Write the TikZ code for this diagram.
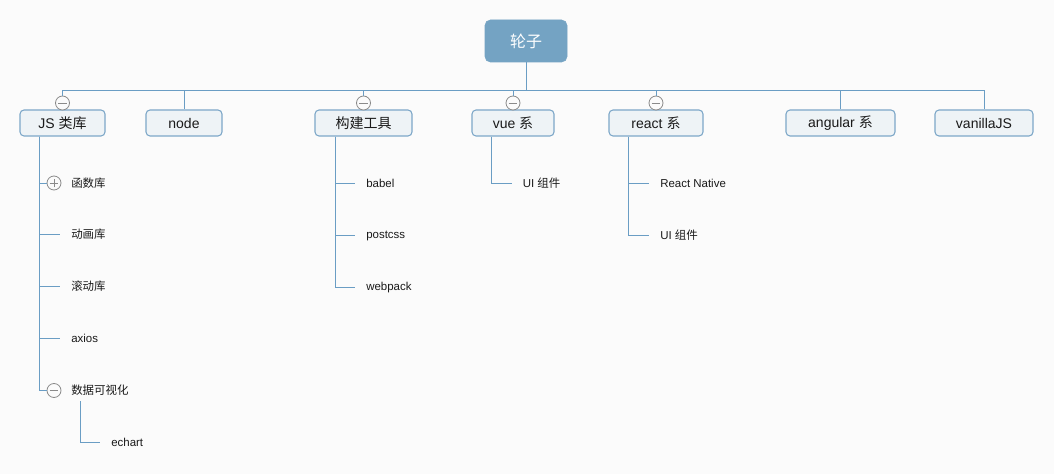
\documentclass[tikz,border=0pt]{standalone}
\usepackage{fontspec}
\setmainfont{Liberation Sans}
\newfontfamily\cjk{Noto Sans CJK SC}
\definecolor{bgc}{HTML}{FBFBFB}
\definecolor{linec}{HTML}{6A9DC4}
\definecolor{boxb}{HTML}{7DA7C8}
\definecolor{boxf}{HTML}{EEF3F6}
\definecolor{rootf}{HTML}{74A3C3}
\definecolor{cgray}{HTML}{8A8A8A}
\definecolor{txt}{HTML}{1A1A1A}
\begin{document}
\begin{tikzpicture}[x=0.75pt,y=-0.75pt,
  conn/.style={draw=linec,line width=0.7pt},
  lvl/.style={draw=boxb,fill=boxf,rounded corners=3pt,minimum height=19.5pt,line width=0.8pt,inner sep=0pt,text=txt,font=\fontsize{10.5}{12}\selectfont},
  rootbox/.style={draw=rootf,fill=rootf,rounded corners=4pt,minimum width=61.5pt,minimum height=31.5pt,text=white,font=\fontsize{12}{14}\selectfont},
  leaf/.style={anchor=west,inner xsep=8.25pt,inner ysep=2pt,text=txt,font=\fontsize{8.6}{10}\selectfont},
  collapse/.style={circle,draw=cgray,fill=bgc,line width=0.6pt,minimum size=10.5pt,inner sep=0pt,
    path picture={\draw[cgray,line width=0.6pt] ([xshift=-3.3pt]path picture bounding box.center) -- ([xshift=3.3pt]path picture bounding box.center);}},
  expand/.style={circle,draw=cgray,fill=bgc,line width=0.6pt,minimum size=10.5pt,inner sep=0pt,
    path picture={\draw[cgray,line width=0.6pt] ([xshift=-3.3pt]path picture bounding box.center) -- ([xshift=3.3pt]path picture bounding box.center) ([yshift=-3.3pt]path picture bounding box.center) -- ([yshift=3.3pt]path picture bounding box.center);}}
]
\fill[bgc] (0,0) rectangle (1054,474);
\useasboundingbox (0,0) rectangle (1054,474);

% root
\node[rootbox] (root) at (526,41) {{\cjk 轮子}};
\coordinate (bus) at (526,90);

% level 1
\node[lvl,minimum width=63.75pt] (js) at (62.5,123) {JS {\cjk 类库}};
\node[lvl,minimum width=57pt] (nd) at (184,123) {node};
\node[lvl,minimum width=72.75pt] (gj) at (363.5,123) {{\cjk 构建工具}};
\node[lvl,minimum width=61.5pt] (vue) at (513,123) {vue {\cjk 系}};
\node[lvl,minimum width=70.5pt] (re) at (656,123) {react {\cjk 系}};
\node[lvl,minimum width=81.75pt] (ng) at (840.5,123) {angular {\cjk 系}};
\node[lvl,minimum width=73.5pt] (va) at (984,123) {vanillaJS};

\node[collapse] (jsc) at (62.5,103) {};
\node[collapse] (gjc) at (363.5,103) {};
\node[collapse] (vuec) at (513,103) {};
\node[collapse] (rec) at (656,103) {};

\draw[conn] (root.south) -- (bus);
\draw[conn] (bus) -| (jsc.north);
\draw[conn] (bus) -| (nd.north);
\draw[conn] (bus) -| (gjc.north);
\draw[conn] (bus) -| (vuec.north);
\draw[conn] (bus) -| (rec.north);
\draw[conn] (bus) -| (ng.north);
\draw[conn] (bus) -| (va.north);

% JS children
\node[expand] (hsc) at (54,183) {};
\node[leaf] (hs) at (60,183) {{\cjk 函数库}};
\node[leaf] (dh) at (60,234.5) {{\cjk 动画库}};
\node[leaf] (gd) at (60,286.5) {{\cjk 滚动库}};
\node[leaf] (ax) at (60,338.5) {axios};
\node[collapse] (sjc) at (54,390.5) {};
\node[leaf] (sj) at (60,390.5) {{\cjk 数据可视化}};
\node[leaf] (ec) at (100,442.5) {echart};

\draw[conn] (js.south west) ++(15pt,0) |- (hsc.west);
\draw[conn] (js.south west) ++(15pt,0) |- (dh.west);
\draw[conn] (js.south west) ++(15pt,0) |- (gd.west);
\draw[conn] (js.south west) ++(15pt,0) |- (ax.west);
\draw[conn] (js.south west) ++(15pt,0) |- (sjc.west);
\draw[conn] (sj.south west) ++(15pt,-2pt) |- (ec.west);

% build tools
\node[leaf] (bb) at (355,183.5) {babel};
\node[leaf] (pc) at (355,235.5) {postcss};
\node[leaf] (wp) at (355,287.5) {webpack};
\draw[conn] (gj.south west) ++(15.5pt,0) |- (bb.west);
\draw[conn] (gj.south west) ++(15.5pt,0) |- (pc.west);
\draw[conn] (gj.south west) ++(15.5pt,0) |- (wp.west);

% vue
\node[leaf] (vui) at (511.5,183.5) {UI {\cjk 组件}};
\draw[conn] (vue.south west) ++(15pt,0) |- (vui.west);

% react
\node[leaf] (rn) at (649,183.5) {React Native};
\node[leaf] (rui) at (649,235.5) {UI {\cjk 组件}};
\draw[conn] (re.south west) ++(15pt,0) |- (rn.west);
\draw[conn] (re.south west) ++(15pt,0) |- (rui.west);
\end{tikzpicture}
\end{document}
